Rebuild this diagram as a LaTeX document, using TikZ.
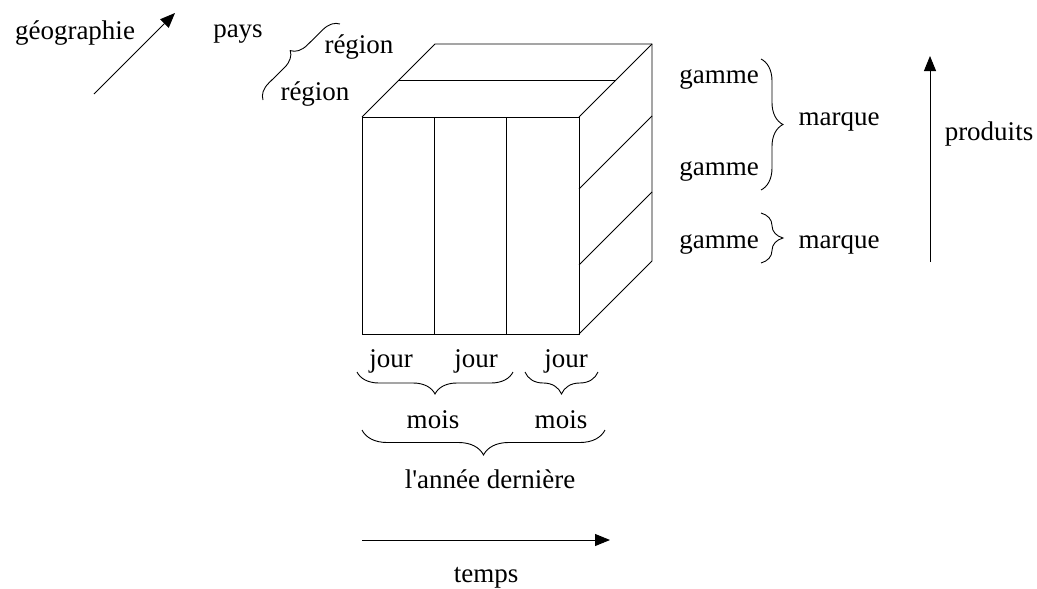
\documentclass[tikz,border=0pt]{standalone}
\usepackage{fontspec}
\setmainfont{Liberation Serif}[Ligatures=TeXOff]
\usetikzlibrary{arrows.meta,decorations.pathreplacing}

\begin{document}
\begin{tikzpicture}[x=1pt, y=-1pt, line width=0.9pt, >={Triangle[length=15pt,width=12pt]}]
				\tikzstyle{every node}=[inner sep=0pt, anchor=base, font=\fontsize{27}{30}\selectfont]
				\tikzstyle{brace}=[decorate, decoration={brace, amplitude=22pt}]
				\useasboundingbox (0,0) rectangle (1037,589);
				% cube corners
				\coordinate (FTL) at (362,117);
				\coordinate (FTR) at (579,117);
				\coordinate (FBL) at (362,334);
				\coordinate (FBR) at (579,334);
				\coordinate (BTL) at (435,44);
				\coordinate (BTR) at (652,44);
				\coordinate (BBR) at (652,261);
				\draw (FTL) rectangle (FBR);
				\draw (434,117) -- (434,334);
				\draw (506,117) -- (506,334);
				\draw (FTL) -- (BTL) -- (BTR) -- (BBR) -- (FBR);
				\draw (BTR) -- (FTR);
				\draw (398.5,80.5) -- (615.5,80.5);
				\draw (579,189) -- (652,116);
				\draw (579,265) -- (652,192);
				% geographie
				\node (G) at (75,39) {géographie};
				\coordinate (G1) at (94,94);
				\coordinate (G2) at (175,13);
				\draw [->] (G1) -- (G2);
				\node (P) at (238,37) {pays};
				\node (R1) at (359,53) {région};
				\node (R2) at (315,100) {région};
				\coordinate (PB1) at (263,100);
				\coordinate (PB2) at (340,24);
				\draw [brace, decoration={amplitude=16pt}] (PB1) -- (PB2);
				% produits
				\node (GA1) at (719,83) {gamme};
				\node (GA2) at (719,175) {gamme};
				\node (GA3) at (719,248) {gamme};
				\node (M1) at (839,125) {marque};
				\node (M2) at (839,248) {marque};
				\coordinate (MB1) at (761,59);
				\coordinate (MB2) at (761,190);
				\coordinate (MB3) at (761,213);
				\coordinate (MB4) at (761,263);
				\draw [brace] (MB1) -- (MB2);
				\draw [brace] (MB3) -- (MB4);
				\node (PR) at (989,140) {produits};
				\coordinate (PR1) at (930,262);
				\coordinate (PR2) at (930,56);
				\draw [->] (PR1) -- (PR2);
				% temps
				\node (J1) at (391,367) {jour};
				\node (J2) at (476,367) {jour};
				\node (J3) at (566,367) {jour};
				\node (MO1) at (433,428) {mois};
				\node (MO2) at (561,428) {mois};
				\node (AN) at (490,488) {l'année dernière};
				\coordinate (JB1) at (357,372);
				\coordinate (JB2) at (513,372);
				\coordinate (JB3) at (525,372);
				\coordinate (JB4) at (598,372);
				\coordinate (AB1) at (362,430);
				\coordinate (AB2) at (605,430);
				\draw [brace] (JB2) -- (JB1);
				\draw [brace] (JB4) -- (JB3);
				\draw [brace, decoration={amplitude=25pt}] (AB2) -- (AB1);
				\node (T) at (486,582) {temps};
				\coordinate (T1) at (362,540);
				\coordinate (T2) at (610,540);
				\draw [->] (T1) -- (T2);
		\end{tikzpicture}
\end{document}
